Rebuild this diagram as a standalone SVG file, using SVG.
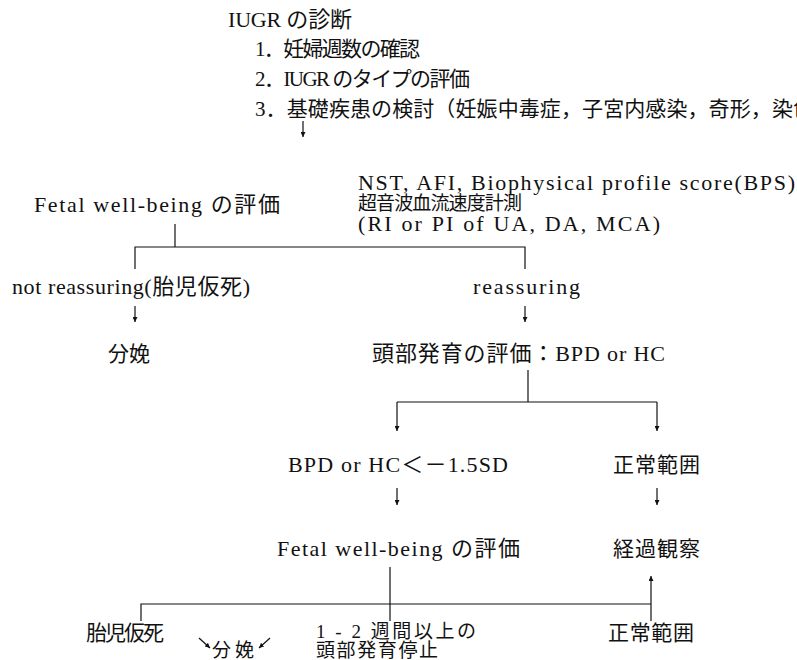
<svg xmlns="http://www.w3.org/2000/svg" width="797" height="660" viewBox="0 0 797 660">
<defs>
<marker id="ah" viewBox="0 0 8 8" refX="8" refY="4" markerWidth="5" markerHeight="5" orient="auto" markerUnits="userSpaceOnUse"><path d="M0,0 L8,4 L0,8 z" fill="#111"/></marker>
</defs>
<style>
text { font-family: "Liberation Serif", "Noto Sans CJK JP", serif; font-size: 21px; fill: #111; }
text.l { font-size: 22px; }
text.s { font-size: 19px; }
.c line, .c polyline { stroke: #111; stroke-width: 1.2; fill: none; }
.a { marker-end: url(#ah); }
</style>
<rect width="797" height="660" fill="#fff"/>

<g id="n-title">
<text class="l" x="228" y="27" textLength="124" lengthAdjust="spacing">IUGR の診断</text>
<text x="255" y="56" textLength="165" lengthAdjust="spacing">1．妊婦週数の確認</text>
<text x="255" y="86" textLength="215" lengthAdjust="spacing">2．IUGR のタイプの評価</text>
<text x="255" y="116" textLength="559" lengthAdjust="spacing">3．基礎疾患の検討（妊娠中毒症，子宮内感染，奇形，染色</text>
</g>

<g id="n-fwb1">
<text class="l" x="34" y="212" textLength="246" lengthAdjust="spacing">Fetal well-being の評価</text>
</g>

<g id="n-methods">
<text class="l" x="358" y="190" textLength="437" lengthAdjust="spacing">NST, AFI, Biophysical profile score(BPS)</text>
<text class="s" x="358" y="210" textLength="164" lengthAdjust="spacing">超音波血流速度計測</text>
<text class="l" x="358" y="231" textLength="302" lengthAdjust="spacing">(RI or PI of UA, DA, MCA)</text>
</g>

<g id="n-notreassuring">
<text class="l" x="12" y="294" textLength="238" lengthAdjust="spacing">not reassuring(胎児仮死)</text>
</g>

<g id="n-reassuring">
<text class="l" x="473" y="294" textLength="107" lengthAdjust="spacing">reassuring</text>
</g>

<g id="n-delivery1">
<text x="108" y="361" textLength="42" lengthAdjust="spacing">分娩</text>
</g>

<g id="n-head">
<text class="l" x="372" y="361" textLength="293" lengthAdjust="spacing">頭部発育の評価：BPD or HC</text>
</g>

<g id="n-bpdlow">
<text class="l" x="288" y="472" textLength="220" lengthAdjust="spacing">BPD or HC＜－1.5SD</text>
</g>

<g id="n-normal1">
<text x="613" y="472" textLength="87" lengthAdjust="spacing">正常範囲</text>
</g>

<g id="n-fwb2">
<text class="l" x="277" y="556" textLength="243" lengthAdjust="spacing">Fetal well-being の評価</text>
</g>

<g id="n-observe">
<text x="613" y="556" textLength="87" lengthAdjust="spacing">経過観察</text>
</g>

<g id="n-distress">
<text x="86" y="640" textLength="78" lengthAdjust="spacing">胎児仮死</text>
</g>

<g id="n-delivery2">
<text class="s" x="212" y="657" textLength="42" lengthAdjust="spacing">分娩</text>
</g>

<g id="n-arrest">
<text class="s" x="316" y="638" textLength="160" lengthAdjust="spacing">1 - 2 週間以上の</text>
<text class="s" x="316" y="657" textLength="122" lengthAdjust="spacing">頭部発育停止</text>
</g>

<g id="n-normal2">
<text x="608" y="640" textLength="86" lengthAdjust="spacing">正常範囲</text>
</g>

<g id="connectors" class="c">
<line class="a" x1="303" y1="121" x2="303" y2="137"/>
<line x1="175" y1="224" x2="175" y2="247"/>
<polyline points="135,269 135,247 525,247 525,269"/>
<line class="a" x1="135" y1="306" x2="135" y2="322"/>
<line class="a" x1="525" y1="306" x2="525" y2="322"/>
<line x1="528" y1="370" x2="528" y2="402"/>
<polyline points="397,402 657,402"/>
<line class="a" x1="397" y1="402" x2="397" y2="431"/>
<line class="a" x1="657" y1="402" x2="657" y2="431"/>
<line class="a" x1="397" y1="488" x2="397" y2="505"/>
<line class="a" x1="657" y1="488" x2="657" y2="505"/>
<line x1="390" y1="567" x2="390" y2="621"/>
<polyline points="141,621 141,604 651,604"/>
<line x1="651" y1="621" x2="651" y2="604"/>
<line class="a" x1="651" y1="604" x2="651" y2="576"/>
<line class="a" x1="199" y1="638" x2="210" y2="648"/>
<line class="a" x1="270" y1="638" x2="259" y2="648"/>
</g>
</svg>
